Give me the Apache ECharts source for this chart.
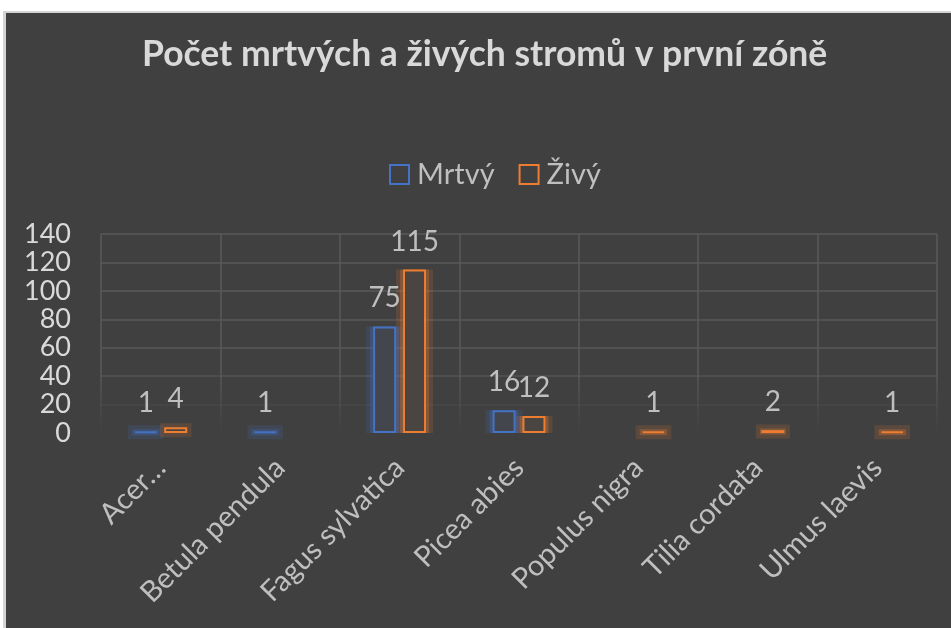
<!DOCTYPE html>
<html>
<head>
<meta charset="utf-8">
<script src="https://cdn.jsdelivr.net/npm/echarts@6/dist/echarts.min.js"></script>
<style>
    body { margin: 0; background: #ffffff; }
    #frame { position: absolute; left: 3px; top: 11px; width: 948px; height: 617px; background: #d4d4d4; }
    #chart { position: absolute; left: 6px; top: 13px; width: 945px; height: 615px; }
</style>
</head>
<body>
<div id="frame"></div>
<div id="chart"></div>
<script>
// chart data
var categories = ['Acer…', 'Betula pendula', 'Fagus sylvatica', 'Picea abies', 'Populus nigra', 'Tilia cordata', 'Ulmus laevis'];
var mrtvy = [1, 1, 75, 16, null, null, null];
var zivy = [4, null, 115, 12, 1, 2, 1];
var seriesNames = ['Mrtvý', 'Živý'];
var yMin = 0, yMax = 140, yStep = 20;

var FONT = 'Lato';
var BLUE = '#4472c4', ORANGE = '#ed7d31';
var BAR_W = 23;
var PAIR_STEP = 30; // distance between the two bar centres

var chart = echarts.init(document.getElementById('chart'));

function barSeries(name, data, color, fill) {
    return {
        name: name,
        type: 'bar',
        z: 3,
        data: data,
        barWidth: BAR_W,
        barGap: '30%',
        itemStyle: { color: fill, borderColor: color, borderWidth: 2 },
        label: {
            show: true,
            position: 'top',
            distance: 14,
            color: '#bfbfbf',
            fontFamily: FONT,
            fontSize: 28
        }
    };
}

// halo: wider bar on a hidden axis, border sits inside so it spills g px past the real bar
function glowSeries(data, axis, rgba, g) {
    var w = BAR_W + 2 * g;
    return {
        type: 'bar',
        xAxisIndex: axis,
        z: 1,
        silent: true,
        data: data,
        barWidth: w,
        barGap: ((PAIR_STEP - w) / w * 100) + '%',
        itemStyle: { color: 'rgba(0,0,0,0)', borderColor: rgba, borderWidth: 2 * g }
    };
}

var hiddenX = { type: 'category', data: categories, show: false };

chart.setOption({
    backgroundColor: '#404040',
    animation: false,
    title: {
        text: 'Počet mrtvých a živých stromů v první zóně',
        left: 131,
        top: 19,
        textStyle: { color: '#d9d9d9', fontFamily: FONT, fontWeight: 'bold', fontSize: 35.5 }
    },
    legend: {
        top: 142,
        left: 378,
        itemWidth: 19,
        itemHeight: 19,
        itemGap: 24,
        icon: 'rect',
        itemStyle: { color: '#404040', borderWidth: 2 },
        textStyle: { color: '#bfbfbf', fontFamily: FONT, fontSize: 29, padding: [0, 0, 0, 3] },
        data: seriesNames
    },
    grid: { left: 95, right: 14, top: 221, bottom: 195 },
    xAxis: [{
        type: 'category',
        data: categories,
        axisLine: { show: false },
        axisTick: { show: false },
        axisLabel: {
            rotate: 45,
            interval: 0,
            margin: 30,
            color: '#bfbfbf',
            fontFamily: FONT,
            fontSize: 29
        },
        splitLine: {
            show: true,
            interval: 0,
            lineStyle: {
                width: 1.5,
                color: new echarts.graphic.LinearGradient(0, 221, 0, 420, [
                    { offset: 0, color: '#595959' },
                    { offset: 0.7, color: '#595959' },
                    { offset: 1, color: 'rgba(89,89,89,0)' }
                ], true)
            }
        }
    }, hiddenX, hiddenX],
    yAxis: {
        type: 'value',
        min: yMin,
        max: yMax,
        interval: yStep,
        axisLine: { show: false },
        axisTick: { show: false },
        axisLabel: { margin: 30, color: '#d9d9d9', fontFamily: FONT, fontSize: 27, lineHeight: 26 },
        splitLine: {
            lineStyle: {
                width: 1.5,
                color: ['rgba(89,89,89,0)', 'rgba(89,89,89,0.3)', 'rgba(89,89,89,0.8)',
                    '#595959', '#595959', '#595959', '#595959', '#595959']
            }
        }
    },
    series: [
        glowSeries(mrtvy, 1, 'rgba(68,114,196,0.16)', 7),
        glowSeries(zivy, 1, 'rgba(237,125,49,0.16)', 7),
        glowSeries(mrtvy, 2, 'rgba(68,114,196,0.28)', 3),
        glowSeries(zivy, 2, 'rgba(237,125,49,0.28)', 3),
        barSeries(seriesNames[0], mrtvy, BLUE, '#43464d'),
        barSeries(seriesNames[1], zivy, ORANGE, '#4a4541')
    ]
});
</script>
</body>
</html>
